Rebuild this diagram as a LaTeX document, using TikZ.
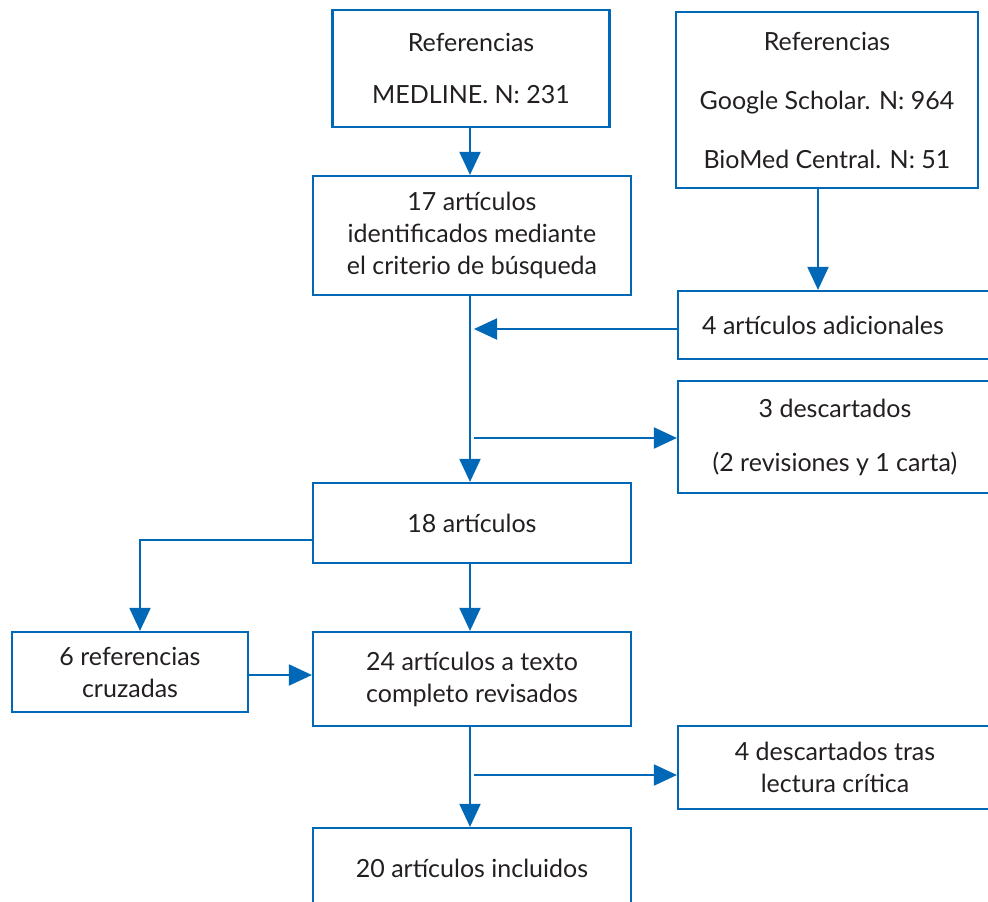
\documentclass[tikz,border=0pt]{standalone}
\usepackage{fontspec}
\setmainfont{Lato}
\usetikzlibrary{arrows.meta,calc}
\definecolor{bl}{RGB}{0,104,182}
\definecolor{tx}{RGB}{35,31,32}
\begin{document}
\begin{tikzpicture}[x=1pt,y=-1pt,
  box/.style={draw=bl,line width=2.2pt,inner sep=0pt,text=tx,align=center,
    font=\fontsize{25}{32}\selectfont},
  arr/.style={draw=bl,line width=2pt,-{Triangle[length=23pt,width=21pt]}}]
\useasboundingbox (0,0) rectangle (988,902);
\node[box,minimum width=277pt,minimum height=117pt] (A) at (471,68.5)
  {Referencias\\[20pt] MEDLINE. N: 231};
\node[box,minimum width=318pt,minimum height=119pt] (B) at (472,235.5)
  {17 artículos\\ identificados mediante\\ el criterio de búsqueda};
\node[box,minimum width=302pt,minimum height=176pt] (C) at (827,100)
  {Referencias\\[27pt] Google Scholar. N: 964\\[27pt] BioMed Central. N: 51};
\node[box,minimum width=330pt,minimum height=68pt] (D) at (843,325)
  {\makebox[270pt]{4 artículos adicionales}\hspace*{40pt}};
\node[box,minimum width=330pt,minimum height=112pt] (E) at (843,437)
  {\makebox[290pt]{3 descartados}\hspace*{16pt}\\[22pt] \makebox[290pt]{(2 revisiones y 1 carta)}\hspace*{16pt}};
\node[box,minimum width=318pt,minimum height=80pt] (F) at (472,523)
  {18 artículos};
\node[box,minimum width=236pt,minimum height=80pt] (R) at (130,672)
  {6 referencias\\ cruzadas};
\node[box,minimum width=318pt,minimum height=94pt] (T) at (472,679)
  {24 artículos a texto\\ completo revisados};
\node[box,minimum width=330pt,minimum height=83pt] (G) at (843,767.5)
  {\makebox[290pt]{4 descartados tras}\hspace*{16pt}\\ \makebox[290pt]{lectura crítica}\hspace*{16pt}};
\node[box,minimum width=318pt,minimum height=80pt] (I) at (472,868)
  {20 artículos incluidos};
\coordinate (vx) at (470,0);
\coordinate (cx) at (818,0);
\coordinate (tx1) at (474,0);
\coordinate (b1) at (474,438);
\coordinate (b2) at (474,775);
\draw[arr] (A.south -| vx) -- (B.north -| vx);
\draw[arr] (C.south -| cx) -- (D.north -| cx);
\draw[arr] ([yshift=-4pt]D.west) -- ([yshift=-4pt]D.west -| tx1);
\draw[arr] (B.south -| vx) -- (F.north -| vx);
\draw[arr] (b1) -- (b1 -| E.west);
\draw[arr] ([yshift=-17pt]F.west) -| ([xshift=10pt]R.north);
\draw[arr] (F.south -| vx) -- (T.north -| vx);
\draw[arr] ([yshift=-3pt]R.east) -- ([yshift=-3pt]R.east -| T.west);
\draw[arr] (T.south -| vx) -- (I.north -| vx);
\draw[arr] (b2) -- (b2 -| G.west);
\end{tikzpicture}
\end{document}
